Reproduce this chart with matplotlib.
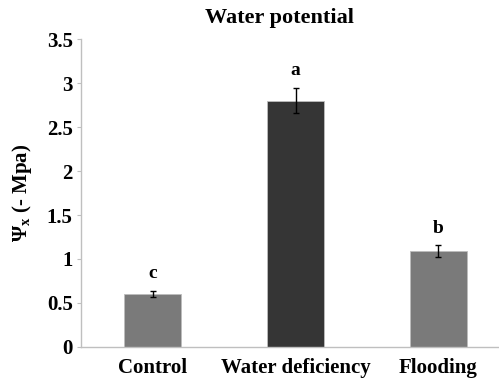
import matplotlib
matplotlib.use("Agg")
import matplotlib.pyplot as plt

categories = ["Control", "Water deficiency", "Flooding"]
values = [0.60, 2.80, 1.09]
errors = [0.035, 0.145, 0.065]
letters = ["c", "a", "b"]
colors = ["#7a7a7a", "#353535", "#7a7a7a"]
yticks = [0, 0.5, 1, 1.5, 2, 2.5, 3, 3.5]
yticklabels = ["0", "0.5", "1", "1.5", "2", "2.5", "3", "3.5"]

plt.rcParams['font.family'] = ['Liberation Serif', 'DejaVu Serif']
plt.rcParams['font.weight'] = 'bold'
plt.rcParams['mathtext.fontset'] = 'custom'
plt.rcParams['mathtext.rm'] = 'Liberation Serif:bold'
plt.rcParams['mathtext.it'] = 'Liberation Serif:italic:bold'
plt.rcParams['mathtext.bf'] = 'Liberation Serif:bold'

fig = plt.figure(figsize=(4.99, 3.78), dpi=100)
W, H = 499, 378
left, right, bottom, top = 81, 510, 347, 39
ax = fig.add_axes([left / W, 1 - bottom / H, (right - left) / W, (bottom - top) / H])

x = list(range(len(categories)))
ax.bar(x, values, width=0.4, color=colors, edgecolor="#bdbdbd", linewidth=0.6, zorder=2)
ax.errorbar(x, values, yerr=errors, fmt="none", ecolor="black", elinewidth=1.0,
            capsize=2.5, capthick=1.0, zorder=3)
for xi, v, e, l in zip(x, values, errors, letters):
    ax.text(xi, v + e + 0.1, l, ha="center", va="bottom", fontsize=14, fontweight="bold")

ax.set_xlim(-0.5, 2.5)
ax.set_ylim(0, 3.5)
ax.set_yticks(yticks)
ax.set_yticklabels(yticklabels, fontsize=15, fontweight="bold")
ax.set_xticks(x)
ax.set_xticklabels(categories, fontsize=15, fontweight="bold")
ax.tick_params(axis="x", length=0, pad=8)
ax.tick_params(axis="y", length=3, width=0.8, color="#bfbfbf", pad=3)
for s in ["top", "right"]:
    ax.spines[s].set_visible(False)
for s in ["left", "bottom"]:
    ax.spines[s].set_color("#bfbfbf")
    ax.spines[s].set_linewidth(1.0)

ax.set_ylabel(r"$\Psi_{\mathrm{x}}$ (- Mpa)", fontsize=15, fontweight="bold", labelpad=9)
fig.text(279 / W, 1 - 18 / H, "Water potential", ha="center", va="center",
         fontsize=16, fontweight="bold")

fig.savefig("out.png", dpi=100)
